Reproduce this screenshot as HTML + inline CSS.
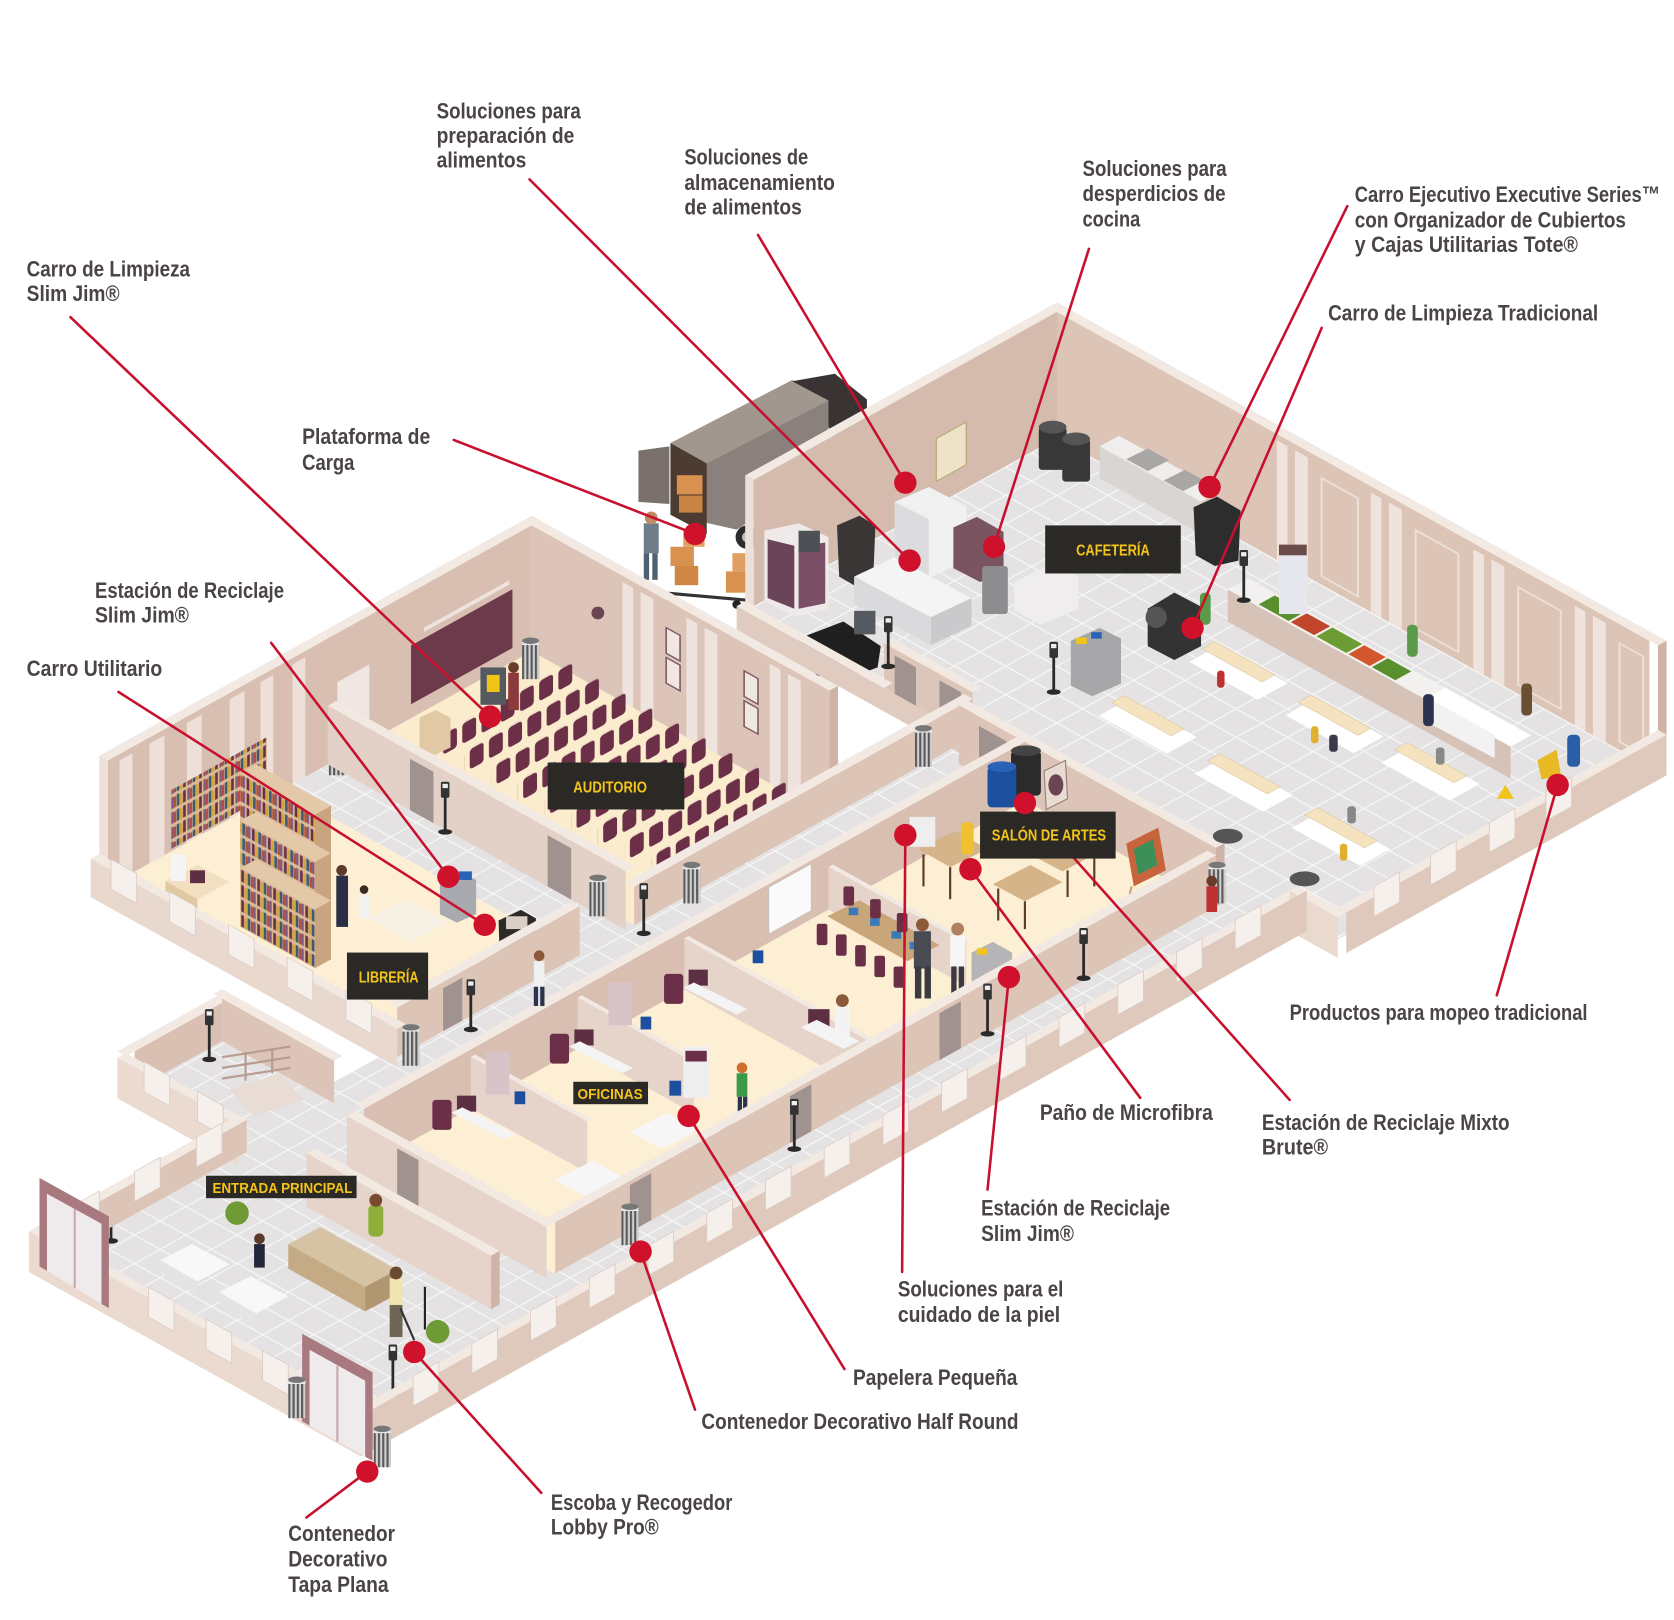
<!DOCTYPE html>
<html><head><meta charset="utf-8">
<style>
html,body{margin:0;padding:0;background:#fff;overflow:hidden;}
svg{display:block;}
.t{font-family:"Liberation Sans",Arial,sans-serif;font-weight:bold;font-size:21px;fill:#4a4446;}
.lb{font-family:"Liberation Sans",Arial,sans-serif;font-weight:bold;font-size:15px;fill:#f3c419;}
</style></head><body>
<svg width="1674" height="1620" viewBox="0 0 1568 1517" preserveAspectRatio="none" xmlns="http://www.w3.org/2000/svg">
<defs>
<pattern id="tile" width="24" height="24" patternUnits="userSpaceOnUse"><rect width="24" height="24" fill="#e4e2e2"/><path d="M0 0.6H24M0.6 0V24" stroke="#f6f6f6" stroke-width="1.2"/></pattern>
<pattern id="chairs" width="18" height="20" patternUnits="userSpaceOnUse"><rect x="2" y="1" width="13" height="19" rx="3" fill="#6b3047"/></pattern>
<pattern id="books" width="15" height="14" patternUnits="userSpaceOnUse"><rect width="15" height="14" fill="#d9b995"/><rect x="1" y="2" width="2.5" height="11" fill="#6b2f45"/><rect x="4" y="3" width="2.5" height="10" fill="#d1a53c"/><rect x="7" y="2" width="2.5" height="11" fill="#3c5a78"/><rect x="10" y="3" width="2.5" height="10" fill="#b0523a"/><rect x="12.5" y="2" width="2" height="11" fill="#7d5a8c"/></pattern>
<pattern id="canpat" width="4" height="5" patternUnits="userSpaceOnUse"><rect width="4" height="5" fill="#d0d0d0"/><rect width="2" height="5" fill="#5a5a5a"/></pattern>
<g id="post"><rect x="-1.3" y="0" width="2.6" height="44" fill="#2a2a2a"/><rect x="-4" y="-3" width="8" height="15" rx="1.5" fill="#333"/><rect x="-2.5" y="-1" width="5" height="4" fill="#eee"/><ellipse cx="0" cy="44" rx="6.5" ry="2.6" fill="#2a2a2a"/></g>
<g id="can"><rect x="-8" y="0" width="16" height="36" fill="url(#canpat)"/><rect x="-8" y="0" width="16" height="4" fill="#e8e8e8"/><ellipse cx="0" cy="0" rx="8" ry="3" fill="#777"/></g>
<rect id="cren" x="0" y="-40" width="24" height="28" fill="#f6f0ec" stroke="#dccbc2" stroke-width="0.8"/>
</defs>

<!-- TRUCK -->
<polygon points="628,415 742,356 776,375 776,442 690,496 628,482" fill="#8b817c"/>
<polygon points="628,415 742,356 776,375 662,434" fill="#a1978f"/>
<polygon points="628,415 662,434 662,500 628,482" fill="#4c3b30"/>
<rect x="634" y="445" width="24" height="18" fill="#d9914f"/>
<rect x="636" y="464" width="22" height="16" fill="#c98343"/>
<polygon points="598,422 627,418 627,472 598,470" fill="#7a706c"/>
<polygon points="742,357 782,350 812,374 812,406 790,420 776,400 776,375" fill="#3a3333"/>
<circle cx="700" cy="503" r="11" fill="#2b2b2b"/><circle cx="700" cy="503" r="5" fill="#bbb"/>
<rect x="628" y="512" width="22" height="18" fill="#d9914f"/>
<rect x="640" y="495" width="20" height="17" fill="#e0a064"/>
<rect x="632" y="530" width="22" height="18" fill="#d08645"/>
<rect x="680" y="535" width="22" height="20" fill="#d9914f"/>
<rect x="686" y="518" width="18" height="17" fill="#e0a064"/>
<line x1="620" y1="555" x2="700" y2="562" stroke="#333" stroke-width="3"/>
<circle cx="628" cy="560" r="4" fill="#222"/><circle cx="690" cy="566" r="4" fill="#222"/>
<rect x="603" y="490" width="14" height="28" fill="#6e7d8a"/><rect x="603" y="518" width="5" height="25" fill="#4f6070"/><rect x="611" y="518" width="5" height="25" fill="#4f6070"/><circle cx="610" cy="485" r="6" fill="#c08a66"/>

<!-- FLOORS -->
<g transform="matrix(1,0.555,-1,0.555,990,410)">
<rect x="0" y="0" width="213" height="292" fill="url(#tile)"/>
<rect x="213" y="0" width="342" height="300" fill="url(#tile)"/>
<rect x="213" y="284" width="313" height="37" fill="url(#tile)"/>
<rect x="205" y="284" width="86" height="616" fill="url(#tile)"/>
<rect x="223" y="900" width="68" height="82" fill="url(#tile)"/>
<rect x="470" y="321" width="56" height="619" fill="url(#tile)"/>
<rect x="223" y="940" width="303" height="238" fill="url(#tile)"/>
<rect x="-66" y="609" width="279" height="51" fill="url(#tile)"/>
<rect x="118" y="900" width="105" height="82" fill="url(#tile)"/>
<rect x="-66" y="426" width="279" height="183" fill="#fbecce"/>
<rect x="-66" y="660" width="279" height="171" fill="#fcefd3"/>
<rect x="291" y="321" width="179" height="619" fill="#fcefd3"/>
</g>

<!-- T2 back-right tall wall -->
<g transform="matrix(1,0.555,0,1,990,410)">
<rect x="-8" y="-118" width="563" height="118" fill="#dcc4b7"/>
<g fill="#efe4dd">
<rect x="206" y="-112" width="10" height="112"/><rect x="223" y="-112" width="12" height="112"/>
<rect x="294" y="-112" width="10" height="112"/><rect x="311" y="-112" width="12" height="112"/>
<rect x="390" y="-112" width="10" height="112"/><rect x="407" y="-112" width="12" height="112"/>
<rect x="485" y="-112" width="10" height="112"/><rect x="502" y="-112" width="12" height="112"/>
</g>
<g fill="none" stroke="#ecdfd7" stroke-width="2">
<rect x="248" y="-100" width="34" height="92"/><rect x="336" y="-100" width="40" height="92"/><rect x="432" y="-100" width="40" height="92"/><rect x="527" y="-100" width="22" height="92"/>
</g>
</g>
<g transform="matrix(1,0.555,-1,0.555,990,292)"><rect x="-8" y="-8" width="571" height="8" fill="#f3e9e3"/></g>
<g transform="matrix(-1,0.555,0,1,1553,722.465)"><rect x="-8" y="-118" width="8" height="88" fill="#ceb3a6"/></g>

<!-- T1 kitchen back-left tall wall -->
<g transform="matrix(-1,0.555,0,1,990,410)">
<rect x="0" y="-118" width="284" height="118" fill="#d5bbad"/>
<rect x="85" y="-62" width="28" height="40" fill="#ece3c8" stroke="#b8a46a" stroke-width="1"/>
</g>
<g transform="matrix(1,0.555,-1,0.555,990,292)"><rect x="-8" y="-8" width="8" height="292" fill="#f3e9e3"/></g>
<g transform="matrix(1,0.555,0,1,706,567.62)"><rect x="-8" y="-118" width="8" height="118" fill="#ece0d8"/></g>

<!-- T3 auditorium/library back-left tall wall -->
<g transform="matrix(-1,0.555,0,1,924,373.37)">
<rect x="426" y="-118" width="397" height="118" fill="#d8bfb2"/>
<rect x="444" y="-68" width="95" height="55" fill="#6d3a4b"/>
<rect x="447" y="-78" width="80" height="4" fill="#efe4dd"/>
<rect x="578" y="-72" width="30" height="72" fill="#f0e7e2"/>
<g fill="#ece0d8">
<rect x="638" y="-112" width="12" height="112"/><rect x="668" y="-112" width="12" height="112"/><rect x="695" y="-112" width="14" height="112"/><rect x="735" y="-112" width="14" height="112"/><rect x="770" y="-112" width="14" height="112"/><rect x="800" y="-112" width="12" height="112"/>
</g>
</g>
<g transform="matrix(1,0.555,-1,0.555,990,292)"><rect x="-74" y="418" width="8" height="405" fill="#f3e9e3"/></g>
<g transform="matrix(1,0.555,0,1,167,866.765)"><rect x="-74" y="-118" width="8" height="92" fill="#ece0d8"/></g>

<!-- T4 auditorium back-right tall wall -->
<g transform="matrix(1,0.555,0,1,564,646.43)">
<rect x="-66" y="-118" width="279" height="118" fill="#dcc5b8"/>
<g fill="#efe4dd">
<rect x="19" y="-112" width="10" height="112"/><rect x="36" y="-112" width="12" height="112"/>
<rect x="79" y="-112" width="10" height="112"/><rect x="96" y="-112" width="12" height="112"/>
<rect x="157" y="-112" width="10" height="112"/><rect x="174" y="-112" width="12" height="112"/>
</g>
<g fill="#f1e7e1" stroke="#7d5a63" stroke-width="1.5">
<rect x="60" y="-92" width="13" height="24"/><rect x="60" y="-64" width="13" height="24"/>
<rect x="133" y="-92" width="13" height="24"/><rect x="133" y="-64" width="13" height="24"/>
</g>
</g>
<circle cx="560" cy="574" r="6" fill="#6a4654"/>
<g transform="matrix(1,0.555,-1,0.555,990,292)"><rect x="-74" y="418" width="287" height="8" fill="#f3e9e3"/></g>
<g transform="matrix(-1,0.555,0,1,1203,528.215)"><rect x="418" y="-118" width="8" height="82" fill="#ceb3a6"/></g>

<!-- KITCHEN CONTENTS -->
<polygon points="1030,418 1125,470 1125,500 1030,448" fill="#d9d5d3"/>
<polygon points="1030,418 1048,408 1143,460 1125,470" fill="#f0eeed"/>
<polygon points="1055,430 1075,420 1095,431 1075,441" fill="#a9a6a6"/>
<polygon points="1090,450 1110,440 1128,450 1108,460" fill="#a9a6a6"/>
<rect x="973" y="400" width="26" height="40" rx="3" fill="#383838"/><ellipse cx="986" cy="400" rx="13" ry="6" fill="#555"/>
<rect x="995" y="411" width="26" height="40" rx="3" fill="#383838"/><ellipse cx="1008" cy="411" rx="13" ry="6" fill="#555"/>
<polygon points="1118,475 1140,465 1162,478 1160,525 1138,530 1120,520" fill="#2d2d2d"/>
<polygon points="716,497 748,490 776,503 776,570 745,577 716,563" fill="#efe9ea"/>
<polygon points="719,505 744,511 744,570 719,560" fill="#6a4458"/>
<polygon points="748,512 773,508 773,565 748,570" fill="#7b5066"/>
<rect x="748" y="497" width="20" height="20" fill="#4d5055"/>
<polygon points="784,492 805,483 820,492 818,540 800,548 786,540" fill="#3a3636"/>
<polygon points="838,470 870,456 905,474 905,525 873,540 838,522" fill="#f1f1f2"/>
<polygon points="838,470 870,486 870,540 838,522" fill="#dcdcde"/>
<polygon points="893,494 915,484 940,498 940,535 918,545 893,532" fill="#7b5461"/>
<rect x="920" y="530" width="24" height="45" rx="3" fill="#8d8d8f"/>
<polygon points="800,540 838,522 910,560 872,578" fill="#f4f4f4"/>
<polygon points="800,540 872,578 872,604 800,566" fill="#dadadc"/>
<polygon points="872,578 910,560 910,586 872,604" fill="#cacacc"/>
<polygon points="748,598 790,582 825,605 822,625 782,640 752,620" fill="#1f1f1f"/>
<circle cx="768" cy="628" r="5" fill="#444"/>
<rect x="800" y="572" width="20" height="22" fill="#555a60"/>
<polygon points="950,545 985,528 1010,540 1010,570 975,585 950,572" fill="#efeded"/>

<!-- CAFETERIA CONTENTS -->
<g transform="matrix(1,0.555,-1,0.555,990,400)" fill="#ffffff">
<rect x="260" y="108" width="64" height="28"/><rect x="263" y="196" width="64" height="28"/><rect x="350" y="108" width="64" height="28"/><rect x="357" y="200" width="64" height="28"/><rect x="435" y="103" width="64" height="28"/><rect x="448" y="200" width="64" height="28"/>
</g>
<g transform="matrix(1,0.555,-1,0.555,990,390)" fill="#f5e3bf" stroke="#dcc8a5" stroke-width="0.6">
<rect x="264" y="116" width="56" height="12"/><rect x="267" y="204" width="56" height="12"/><rect x="354" y="116" width="56" height="12"/><rect x="361" y="208" width="56" height="12"/><rect x="439" y="111" width="56" height="12"/><rect x="452" y="208" width="56" height="12"/>
</g>
<rect x="1140" y="628" width="7" height="16" rx="3" fill="#c03030"/>
<rect x="1228" y="680" width="7" height="16" rx="3" fill="#e0b030"/>
<rect x="1245" y="688" width="8" height="16" rx="3" fill="#3a3a4a"/>
<rect x="1255" y="790" width="7" height="16" rx="3" fill="#e0b030"/>
<rect x="1262" y="755" width="8" height="16" rx="3" fill="#888"/>
<rect x="1345" y="700" width="8" height="16" rx="3" fill="#888"/>
<g transform="matrix(1,0.555,0,1,915,451.625)"><rect x="235" y="-30" width="265" height="30" fill="#d6c2b7"/></g>
<g transform="matrix(1,0.555,-1,0.555,990,380)">
<rect x="235" y="56" width="265" height="19" fill="#f3f1ef"/>
<rect x="262" y="58" width="28" height="15" fill="#5a8f2e"/><rect x="292" y="58" width="22" height="15" fill="#c0452b"/><rect x="316" y="58" width="28" height="15" fill="#6e9c34"/><rect x="346" y="58" width="20" height="15" fill="#d2572c"/><rect x="368" y="58" width="22" height="15" fill="#5a8f2e"/>
<rect x="420" y="56" width="80" height="19" fill="#ffffff"/>
</g>
<rect x="1198" y="515" width="26" height="60" fill="#e6e7ee"/><rect x="1198" y="510" width="26" height="10" fill="#6b4a4a"/>
<polygon points="1340,655 1400,688 1400,710 1340,678" fill="#f2f2f2"/>
<polygon points="1003,600 1030,588 1050,598 1050,640 1023,652 1003,642" fill="#a7a7aa"/>
<rect x="1008" y="597" width="10" height="6" fill="#f0c419"/><rect x="1022" y="592" width="10" height="6" fill="#2a62b8"/>
<polygon points="1075,570 1100,555 1125,568 1125,605 1100,618 1075,605" fill="#333"/>
<circle cx="1083" cy="578" r="10" fill="#555"/>
<rect x="1124" y="555" width="10" height="30" rx="4" fill="#5a9a48"/>
<rect x="1318" y="585" width="10" height="30" rx="4" fill="#5a9a48"/>
<rect x="1425" y="640" width="10" height="30" rx="4" fill="#6a5030"/>
<rect x="1333" y="650" width="10" height="30" rx="4" fill="#2b3350"/>
<rect x="1468" y="688" width="12" height="30" rx="4" fill="#2a5fa8"/>
<polygon points="1440,712 1458,702 1462,725 1444,730" fill="#e8b923"/>
<polygon points="1410,735 1418,748 1402,748" fill="#f0c419"/>

<!-- AUDITORIUM CONTENTS -->
<g fill="url(#chairs)">
<rect transform="matrix(-1,0.555,0,1,970,398.9)" x="430" y="-20" width="130" height="20"/>
<rect transform="matrix(-1,0.555,0,1,995,412.775)" x="430" y="-20" width="130" height="20"/>
<rect transform="matrix(-1,0.555,0,1,1020,426.65)" x="430" y="-20" width="130" height="20"/>
<rect transform="matrix(-1,0.555,0,1,1045,440.525)" x="430" y="-20" width="130" height="20"/>
<rect transform="matrix(-1,0.555,0,1,1070,454.4)" x="430" y="-20" width="130" height="20"/>
<rect transform="matrix(-1,0.555,0,1,1095,468.275)" x="430" y="-20" width="130" height="20"/>
<rect transform="matrix(-1,0.555,0,1,1120,482.15)" x="430" y="-20" width="130" height="20"/>
<rect transform="matrix(-1,0.555,0,1,1145,496.025)" x="430" y="-20" width="130" height="20"/>
<rect transform="matrix(-1,0.555,0,1,1170,509.9)" x="430" y="-20" width="130" height="20"/>
</g>
<polygon points="393,672 408,665 422,672 422,700 407,707 393,700" fill="#e2c9a6"/>
<rect x="450" y="625" width="24" height="35" fill="#555a60"/><rect x="456" y="632" width="12" height="16" fill="#f0c419"/>
<rect x="476" y="630" width="10" height="35" fill="#8b3b3b"/><circle cx="481" cy="625" r="5" fill="#6a3a2a"/>
<use href="#can" x="497" y="600"/>
<use href="#can" x="316" y="690"/>

<!-- LIBRARY CONTENTS -->
<g transform="matrix(-1,0.555,0,1,940,382.25)"><rect x="690" y="-75" width="90" height="55" fill="url(#books)"/></g>
<g transform="matrix(1,0.555,0,1,275,806.825)"><rect x="-50" y="-55" width="70" height="55" fill="url(#books)"/></g>
<g transform="matrix(1,0.555,-1,0.555,990,355)"><rect x="-50" y="700" width="70" height="15" fill="#e3c9a8"/></g>
<g transform="matrix(-1,0.555,0,1,1010,421.1)"><rect x="700" y="-55" width="15" height="55" fill="#c9a47e"/></g>
<g transform="matrix(1,0.555,0,1,235,829.025)"><rect x="-10" y="-55" width="70" height="55" fill="url(#books)"/></g>
<g transform="matrix(1,0.555,-1,0.555,990,355)"><rect x="-10" y="740" width="70" height="15" fill="#e3c9a8"/></g>
<g transform="matrix(-1,0.555,0,1,1050,443.3)"><rect x="740" y="-55" width="15" height="55" fill="#c9a47e"/></g>
<g transform="matrix(1,0.555,0,1,195,851.225)"><rect x="30" y="-55" width="70" height="55" fill="url(#books)"/></g>
<g transform="matrix(1,0.555,-1,0.555,990,355)"><rect x="30" y="780" width="70" height="15" fill="#e3c9a8"/></g>
<g transform="matrix(-1,0.555,0,1,1090,465.5)"><rect x="780" y="-55" width="15" height="55" fill="#c9a47e"/></g>
<polygon points="155,825 185,810 215,826 185,842" fill="#f1dfc0"/>
<polygon points="155,825 185,842 185,858 155,841" fill="#e0c8a2"/>
<rect x="160" y="800" width="14" height="25" fill="#f5f5f5"/>
<rect x="178" y="815" width="14" height="12" fill="#5d2f42"/>
<polygon points="345,860 380,842 420,864 385,882" fill="#f6efe4"/>
<rect x="315" y="820" width="11" height="48" fill="#2b2f45"/><circle cx="320" cy="815" r="5" fill="#5a3a2a"/>
<rect x="337" y="838" width="9" height="22" fill="#f2f2f2"/><circle cx="341" cy="833" r="4" fill="#3a2a20"/>
<polygon points="412,825 430,816 446,824 446,856 428,864 412,856" fill="#a9aab0"/>
<rect x="430" y="816" width="12" height="8" fill="#2a62b8"/>
<polygon points="467,862 488,852 502,860 500,895 480,900 468,892" fill="#2e2a28"/>
<rect x="474" y="858" width="20" height="12" fill="#d8cfc6"/>

<!-- K1 kitchen front wall -->
<g transform="matrix(1,0.555,0,1,698,572.06)"><rect x="-8" y="0" width="221" height="22" fill="#e0cbc0"/><rect x="130" y="-42" width="83" height="42" fill="#dcc6ba"/><rect x="140" y="-36" width="20" height="36" fill="#a0928e"/><rect x="182" y="-36" width="20" height="36" fill="#a0928e"/></g>
<g transform="matrix(1,0.555,-1,0.555,990,410)"><rect x="-8" y="284" width="138" height="8" fill="#f3e9e3"/></g>
<g transform="matrix(1,0.555,-1,0.555,990,368)"><rect x="130" y="284" width="83" height="8" fill="#f3e9e3"/></g>

<!-- A2/A3 corridor left low wall -->
<g transform="matrix(-1,0.555,0,1,1203,528.215)"><rect x="292" y="-36" width="317" height="36" fill="#dcc4b7"/></g>
<g transform="matrix(1,0.555,-1,0.555,990,374)"><rect x="205" y="292" width="8" height="317" fill="#f3e9e3"/></g>

<!-- A1 auditorium front wall -->
<g transform="matrix(1,0.555,-1,0.555,990,355)"><rect x="-66" y="609" width="279" height="8" fill="#f3e9e3"/></g>
<g transform="matrix(1,0.555,0,1,373,752.435)"><rect x="-66" y="-55" width="279" height="55" fill="#e3d0c6"/><rect x="11" y="-48" width="22" height="48" fill="#a0928e"/><rect x="140" y="-48" width="22" height="48" fill="#a0928e"/></g>

<!-- M2 art room back-right -->
<g transform="matrix(1,0.555,0,1,669,588.155)"><rect x="229" y="-55" width="241" height="55" fill="#dcc5b8"/><rect x="248" y="-46" width="26" height="46" fill="#a0928e"/></g>
<g transform="matrix(1,0.555,-1,0.555,990,355)"><rect x="229" y="313" width="241" height="8" fill="#f3e9e3"/></g>
<g transform="matrix(-1,0.555,0,1,1460,670.85)"><rect x="313" y="-55" width="8" height="55" fill="#ceb3a6"/></g>

<!-- M1 art/office back-left -->
<g transform="matrix(-1,0.555,0,1,1281,571.505)"><rect x="321" y="-55" width="619" height="55" fill="#d8bfb2"/><rect x="521" y="-52" width="40" height="44" fill="#fafafa" stroke="#c9c0bb"/></g>
<g transform="matrix(1,0.555,-1,0.555,990,355)"><rect x="283" y="313" width="8" height="627" fill="#f3e9e3"/></g>

<!-- ART ROOM CONTENTS -->
<rect x="947" y="703" width="28" height="42" rx="4" fill="#2b2b2b"/><ellipse cx="961" cy="703" rx="14" ry="5" fill="#444"/>
<rect x="925" y="718" width="27" height="38" rx="4" fill="#1d4f9f"/><ellipse cx="938.5" cy="718" rx="13.5" ry="5" fill="#2a62b8"/>
<polygon points="978,722 998,712 1000,748 980,758" fill="#e8dcd2" stroke="#9a7a70"/>
<ellipse cx="989" cy="735" rx="7" ry="10" fill="#6a4654"/>
<polygon points="860,795 895,778 925,795 890,812" fill="#d6b48a"/>
<polygon points="930,828 965,810 995,826 960,844" fill="#d6b48a"/>
<polygon points="965,800 1000,782 1030,798 995,816" fill="#d6b48a"/>
<g stroke="#5a3a2a" stroke-width="2"><line x1="865" y1="800" x2="865" y2="830"/><line x1="890" y1="812" x2="890" y2="842"/><line x1="935" y1="832" x2="935" y2="862"/><line x1="960" y1="844" x2="960" y2="870"/><line x1="1000" y1="815" x2="1000" y2="840"/><line x1="1025" y1="800" x2="1025" y2="830"/></g>
<polygon points="1055,790 1085,775 1092,815 1062,830" fill="#c8643c"/>
<polygon points="1062,795 1080,786 1084,810 1066,819" fill="#3d8f5a"/>
<line x1="1060" y1="830" x2="1055" y2="850" stroke="#c9a77d" stroke-width="2"/>
<rect x="900" y="770" width="12" height="30" rx="4" fill="#f0c030"/>
<rect x="852" y="765" width="24" height="28" fill="#eeeeee"/>

<!-- M5 art/meeting partition -->
<g transform="matrix(1,0.555,0,1,485,690.275)"><rect x="291" y="-40" width="129" height="40" fill="#e6d4ca"/></g>
<g transform="matrix(1,0.555,-1,0.555,990,370)"><rect x="291" y="501" width="129" height="4" fill="#f3e9e3"/></g>

<!-- MEETING ROOM -->
<polygon points="775,858 805,843 880,885 850,900" fill="#c9a57a"/>
<g fill="#3a7ab8"><rect x="795" y="850" width="9" height="7"/><rect x="815" y="860" width="9" height="7"/><rect x="835" y="872" width="9" height="7"/><rect x="852" y="882" width="9" height="7"/></g>
<g fill="#6b3047"><rect x="765" y="865" width="10" height="20" rx="2"/><rect x="783" y="875" width="10" height="20" rx="2"/><rect x="801" y="885" width="10" height="20" rx="2"/><rect x="819" y="895" width="10" height="20" rx="2"/><rect x="837" y="905" width="10" height="20" rx="2"/><rect x="790" y="830" width="10" height="18" rx="2"/><rect x="815" y="842" width="10" height="18" rx="2"/><rect x="840" y="855" width="10" height="18" rx="2"/></g>
<rect x="856" y="872" width="16" height="35" fill="#4a4a52"/><rect x="857" y="905" width="6" height="30" fill="#3a3a40"/><rect x="866" y="905" width="6" height="30" fill="#3a3a40"/><circle cx="864" cy="866" r="6" fill="#8a5a3a"/>
<rect x="890" y="876" width="14" height="30" fill="#f6f6f6"/><rect x="891" y="905" width="5" height="28" fill="#3a3a40"/><rect x="898" y="905" width="5" height="28" fill="#3a3a40"/><circle cx="897" cy="870" r="6" fill="#b08060"/>
<polygon points="910,892 930,882 948,892 948,925 928,935 910,925" fill="#b5b5b8"/>
<rect x="915" y="888" width="10" height="6" fill="#f0c419"/>

<!-- M6 meeting/offices partition + office partitions -->
<g transform="matrix(1,0.555,0,1,350,765.2)"><rect x="291" y="-48" width="171" height="48" fill="#e6d4ca"/></g>
<g transform="matrix(1,0.555,-1,0.555,990,362)"><rect x="291" y="636" width="171" height="4" fill="#f3e9e3"/></g>
<rect x="757" y="945" width="20" height="18" fill="#5d2f42"/><rect x="782" y="942" width="14" height="30" fill="#f3f3f3"/><circle cx="789" cy="937" r="6" fill="#8a5a3a"/>
<polygon points="750,962 790,982 805,975 765,955" fill="#f4f4f4"/>
<rect x="622" y="912" width="18" height="28" rx="3" fill="#6b3047"/><rect x="645" y="908" width="18" height="15" fill="#5d2f42"/>
<polygon points="640,925 690,950 700,945 650,920" fill="#f4f4f4"/>
<rect x="705" y="890" width="10" height="12" fill="#1d4f9f"/>
<g transform="matrix(1,0.555,0,1,250,820.7)"><rect x="291" y="-48" width="109" height="48" fill="#e6d4ca"/></g>
<g transform="matrix(1,0.555,-1,0.555,990,362)"><rect x="291" y="736" width="109" height="4" fill="#f3e9e3"/></g>
<rect x="515" y="968" width="18" height="28" rx="3" fill="#6b3047"/><rect x="538" y="964" width="18" height="15" fill="#5d2f42"/>
<polygon points="533,980 583,1005 593,1000 543,975" fill="#f4f4f4"/>
<rect x="600" y="952" width="10" height="12" fill="#1d4f9f"/>
<rect x="570" y="920" width="22" height="40" fill="#d8c4c8"/>
<g transform="matrix(1,0.555,0,1,150,876.2)"><rect x="291" y="-48" width="109" height="48" fill="#e6d4ca"/></g>
<g transform="matrix(1,0.555,-1,0.555,990,362)"><rect x="291" y="836" width="109" height="4" fill="#f3e9e3"/></g>
<rect x="405" y="1030" width="18" height="28" rx="3" fill="#6b3047"/><rect x="428" y="1026" width="18" height="15" fill="#5d2f42"/>
<polygon points="423,1042 473,1067 483,1062 433,1037" fill="#f4f4f4"/>
<rect x="482" y="1022" width="10" height="12" fill="#1d4f9f"/>
<rect x="455" y="985" width="22" height="40" fill="#d8c4c8"/>
<rect x="640" y="980" width="24" height="48" fill="#eeeeee"/><rect x="642" y="984" width="20" height="10" fill="#6b3047"/>
<rect x="627" y="1012" width="11" height="14" fill="#1d4f9f"/>
<rect x="690" y="1005" width="10" height="22" fill="#3a9a48"/><rect x="691" y="1027" width="4" height="18" fill="#2b3350"/><rect x="696" y="1027" width="4" height="18" fill="#2b3350"/><circle cx="695" cy="1000" r="5" fill="#d07030"/>
<polygon points="590,1060 625,1042 655,1058 620,1076" fill="#f6f6f6"/>
<polygon points="520,1105 555,1087 585,1103 550,1121" fill="#f6f6f6"/>
<ellipse cx="682" cy="1058" rx="8" ry="5" fill="#777"/>

<!-- M3 office/art front-right wall -->
<g transform="matrix(-1,0.555,0,1,1460,670.85)"><rect x="321" y="-48" width="619" height="48" fill="#dcc4b7"/><rect x="560" y="-44" width="20" height="44" fill="#a0928e"/><rect x="700" y="-44" width="20" height="44" fill="#a0928e"/><rect x="850" y="-44" width="20" height="44" fill="#a0928e"/></g>
<g transform="matrix(1,0.555,-1,0.555,990,362)"><rect x="462" y="321" width="8" height="619" fill="#f3e9e3"/></g>
<!-- M4 office front-left wall -->
<g transform="matrix(1,0.555,0,1,42,936.14)"><rect x="283" y="-48" width="187" height="48" fill="#e6d4ca"/><rect x="330" y="-44" width="20" height="44" fill="#a0928e"/></g>
<g transform="matrix(1,0.555,-1,0.555,990,362)"><rect x="283" y="940" width="187" height="8" fill="#f3e9e3"/></g>

<!-- L3 library front-right, L2 library front-left -->
<g transform="matrix(-1,0.555,0,1,1203,528.215)"><rect x="660" y="-46" width="171" height="46" fill="#dcc4b7"/><rect x="770" y="-40" width="18" height="40" fill="#a0928e"/></g>
<g transform="matrix(1,0.555,-1,0.555,990,364)"><rect x="205" y="660" width="8" height="171" fill="#f3e9e3"/></g>
<g transform="matrix(1,0.555,-1,0.555,990,384)"><rect x="-74" y="823" width="287" height="8" fill="#f3e9e3"/></g>
<g transform="matrix(1,0.555,0,1,159,871.205)"><rect x="-74" y="-26" width="287" height="36" fill="#e9d8ce"/>
<use href="#cren" x="-55" y="4"/><use href="#cren" x="0" y="4"/><use href="#cren" x="55" y="4"/><use href="#cren" x="110" y="4"/><use href="#cren" x="165" y="4"/></g>

<!-- STAIR ROOM -->
<g transform="matrix(-1,0.555,0,1,1108,475.49)"><rect x="900" y="-36" width="82" height="36" fill="#d9c0b3"/></g>
<g transform="matrix(1,0.555,-1,0.555,990,374)"><rect x="110" y="892" width="8" height="98" fill="#f3e9e3"/></g>
<g transform="matrix(1,0.555,0,1,90,909.5)"><rect x="118" y="-40" width="105" height="40" fill="#dcc5b8"/></g>
<g transform="matrix(1,0.555,-1,0.555,990,370)"><rect x="110" y="892" width="113" height="8" fill="#f3e9e3"/></g>
<polygon points="215,1020 262,1005 285,1030 238,1045" fill="#e8dcd5"/>
<g stroke="#b79b90" stroke-width="2"><line x1="208" y1="990" x2="272" y2="980"/><line x1="208" y1="1000" x2="272" y2="990"/><line x1="208" y1="1010" x2="272" y2="1000"/><line x1="230" y1="985" x2="230" y2="1012"/><line x1="255" y1="982" x2="255" y2="1005"/></g>
<g transform="matrix(1,0.555,-1,0.555,990,380)"><rect x="110" y="982" width="113" height="8" fill="#f3e9e3"/></g>
<g transform="matrix(1,0.555,0,1,0,959.45)"><rect x="110" y="-30" width="113" height="38" fill="#eadacf"/><use href="#cren" x="135" y="0"/><use href="#cren" x="185" y="0"/></g>

<!-- LOBBY interior wall -->
<g transform="matrix(1,0.555,-1,0.555,990,360)"><rect x="297" y="992" width="173" height="8" fill="#f3e9e3"/></g>
<g transform="matrix(1,0.555,0,1,-10,965)"><rect x="297" y="-50" width="173" height="50" fill="#e6d4ca"/></g>
<g transform="matrix(-1,0.555,0,1,1460,670.85)"><rect x="992" y="-50" width="8" height="50" fill="#ceb3a6"/></g>
<polygon points="150,1180 180,1165 215,1184 185,1200" fill="#f8f8f8"/>
<polygon points="150,1180 185,1200 185,1212 150,1192" fill="#e4e4e4"/>
<polygon points="205,1210 235,1195 270,1214 240,1230" fill="#f8f8f8"/>
<polygon points="205,1210 240,1230 240,1242 205,1222" fill="#e4e4e4"/>
<polygon points="270,1165 300,1149 372,1189 342,1205" fill="#d6c3a3"/>
<polygon points="270,1165 342,1205 342,1228 270,1188" fill="#c4ab86"/>
<polygon points="342,1205 372,1189 372,1212 342,1228" fill="#b09772"/>
<circle cx="222" cy="1136" r="11" fill="#6f9a35"/><circle cx="410" cy="1247" r="11" fill="#6f9a35"/>
<rect x="345" y="1128" width="14" height="30" rx="5" fill="#8fae3a"/><circle cx="352" cy="1124" r="6" fill="#7a4a30"/>
<rect x="238" y="1165" width="10" height="22" fill="#23263a"/><circle cx="243" cy="1160" r="5" fill="#5a3a2a"/>
<rect x="365" y="1197" width="12" height="26" fill="#efe3b0"/><rect x="365" y="1222" width="12" height="30" fill="#6d6555"/><circle cx="371" cy="1192" r="6" fill="#6a4a30"/>
<line x1="375" y1="1225" x2="388" y2="1255" stroke="#333" stroke-width="2"/>
<line x1="398" y1="1205" x2="398" y2="1245" stroke="#222" stroke-width="2"/>

<!-- CORRIDOR OBJECTS -->
<use href="#can" x="560" y="822"/>
<use href="#can" x="648" y="810"/>
<use href="#can" x="865" y="682"/>
<use href="#can" x="385" y="962"/>
<use href="#can" x="590" y="1130"/>
<use href="#can" x="1140" y="810"/>
<use href="#post" x="417" y="735"/>
<use href="#post" x="603" y="830"/>
<use href="#post" x="441" y="920"/>
<use href="#post" x="196" y="948"/>
<use href="#post" x="104" y="1118"/>
<use href="#post" x="368" y="1262"/>
<use href="#post" x="744" y="1032"/>
<use href="#post" x="925" y="924"/>
<use href="#post" x="1015" y="872"/>
<use href="#post" x="987" y="604"/>
<use href="#post" x="1165" y="518"/>
<use href="#post" x="832" y="580"/>
<rect x="500" y="900" width="10" height="24" fill="#f0f0f0"/><rect x="500" y="924" width="4" height="18" fill="#2b3350"/><rect x="506" y="924" width="4" height="18" fill="#2b3350"/><circle cx="505" cy="895" r="5" fill="#8a5a3a"/>
<rect x="1130" y="830" width="10" height="24" fill="#c03030"/><circle cx="1135" cy="825" r="5" fill="#6a3a2a"/>
<ellipse cx="1150" cy="783" rx="14" ry="7" fill="#555"/>
<ellipse cx="1222" cy="823" rx="14" ry="7" fill="#555"/>

<!-- EXTERIOR LOW WALLS -->
<g transform="matrix(1,0.555,-1,0.555,990,380)">
<rect x="555" y="-8" width="8" height="300" fill="#f3e9e3"/>
<rect x="518" y="292" width="45" height="8" fill="#f3e9e3"/>
<rect x="518" y="292" width="8" height="886" fill="#f3e9e3"/>
<rect x="215" y="1170" width="311" height="8" fill="#f3e9e3"/>
<rect x="215" y="982" width="8" height="188" fill="#f3e9e3"/>
</g>
<g transform="matrix(-1,0.555,0,1,1213,533.765)"><rect x="982" y="-30" width="188" height="30" fill="#dcc4b7"/>
<use href="#cren" x="1005" y="0"/><use href="#cren" x="1063" y="0"/><use href="#cren" x="1120" y="0"/></g>
<g transform="matrix(-1,0.555,0,1,1553,722.465)"><rect x="-8" y="-30" width="300" height="38" fill="#dfc9bd"/>
<use href="#cren" x="81" y="0"/><use href="#cren" x="134" y="0"/><use href="#cren" x="189" y="0"/><use href="#cren" x="242" y="0"/></g>
<g transform="matrix(1,0.555,0,1,690,576.5)"><rect x="518" y="-30" width="45" height="38" fill="#ead9cf"/></g>
<g transform="matrix(-1,0.555,0,1,1516,701.93)"><rect x="292" y="-30" width="886" height="38" fill="#dfc9bd"/>
<use href="#cren" x="335" y="0"/><use href="#cren" x="390" y="0"/><use href="#cren" x="445" y="0"/><use href="#cren" x="500" y="0"/><use href="#cren" x="555" y="0"/><use href="#cren" x="610" y="0"/><use href="#cren" x="665" y="0"/><use href="#cren" x="720" y="0"/><use href="#cren" x="775" y="0"/><use href="#cren" x="830" y="0"/><use href="#cren" x="885" y="0"/><use href="#cren" x="940" y="0"/><use href="#cren" x="995" y="0"/><use href="#cren" x="1050" y="0"/><use href="#cren" x="1105" y="0"/></g>
<g transform="matrix(1,0.555,0,1,-188,1063.79)"><rect x="215" y="-30" width="311" height="38" fill="#eadacf"/>
<use href="#cren" x="327" y="0"/><use href="#cren" x="381" y="0"/><use href="#cren" x="434" y="0"/></g>

<!-- DOORS -->
<polygon points="37,1103 102,1139 102,1225 95,1221 95,1146 44,1118 44,1190 37,1186" fill="#a8797f"/>
<polygon points="44,1118 95,1146 95,1221 44,1190" fill="#efebec"/>
<line x1="70" y1="1132" x2="70" y2="1206" stroke="#c9a9ad" stroke-width="2"/>
<polygon points="283,1249 349,1285 349,1368 342,1364 342,1293 290,1264 290,1335 283,1331" fill="#a8797f"/>
<polygon points="290,1264 342,1293 342,1364 290,1335" fill="#efebec"/>
<line x1="316" y1="1279" x2="316" y2="1350" stroke="#c9a9ad" stroke-width="2"/>
<use href="#can" x="278" y="1292"/>
<use href="#can" x="358" y="1338"/>

<!-- RED LINES -->
<g stroke="#c8102e" stroke-width="2.4" fill="none" stroke-linecap="round">
<line x1="496" y1="168" x2="852" y2="525"/>
<line x1="710" y1="220" x2="848" y2="452"/>
<line x1="1020" y1="233" x2="931" y2="512"/>
<line x1="1262" y1="193" x2="1133" y2="456"/>
<line x1="1238" y1="307" x2="1117" y2="588"/>
<line x1="66" y1="297" x2="459" y2="671"/>
<line x1="425" y1="412" x2="651" y2="500"/>
<line x1="254" y1="602" x2="420" y2="821"/>
<line x1="111" y1="648" x2="454" y2="866"/>
<line x1="1402" y1="932" x2="1459" y2="735"/>
<line x1="1068" y1="1028" x2="909" y2="814"/>
<line x1="1208" y1="1030" x2="960" y2="752"/>
<line x1="925" y1="1114" x2="945" y2="915"/>
<line x1="845" y1="1191" x2="848" y2="782"/>
<line x1="791" y1="1282" x2="645" y2="1045"/>
<line x1="651" y1="1320" x2="600" y2="1172"/>
<line x1="507" y1="1398" x2="388" y2="1266"/>
<line x1="287" y1="1421" x2="344" y2="1378"/>
</g>

<!-- ROOM LABELS -->
<g fill="#2b2926">
<rect x="979" y="492" width="127" height="45"/>
<rect x="513" y="714" width="128" height="44"/>
<rect x="918" y="760" width="127" height="44"/>
<rect x="325" y="892" width="76" height="44"/>
<rect x="537" y="1013" width="70" height="21"/>
<rect x="193" y="1101" width="141" height="21"/>
</g>
<text class="lb" x="1008" y="520" textLength="69" lengthAdjust="spacingAndGlyphs">CAFETERÍA</text>
<text class="lb" x="537" y="742" textLength="69" lengthAdjust="spacingAndGlyphs">AUDITORIO</text>
<text class="lb" x="929" y="787" textLength="107" lengthAdjust="spacingAndGlyphs">SALÓN DE ARTES</text>
<text class="lb" x="336" y="920" textLength="56" lengthAdjust="spacingAndGlyphs">LIBRERÍA</text>
<text class="lb" x="541" y="1029" textLength="61" lengthAdjust="spacingAndGlyphs" style="font-size:14px">OFICINAS</text>
<text class="lb" x="199" y="1117" textLength="131" lengthAdjust="spacingAndGlyphs" style="font-size:14px">ENTRADA PRINCIPAL</text>

<!-- DOTS -->
<g fill="#d0112b">
<circle cx="852" cy="525" r="10.5"/><circle cx="848" cy="452" r="10.5"/><circle cx="931" cy="512" r="10.5"/><circle cx="1133" cy="456" r="10.5"/><circle cx="1117" cy="588" r="10.5"/><circle cx="459" cy="671" r="10.5"/><circle cx="651" cy="500" r="10.5"/><circle cx="420" cy="821" r="10.5"/><circle cx="454" cy="866" r="10.5"/><circle cx="1459" cy="735" r="10.5"/><circle cx="909" cy="814" r="10.5"/><circle cx="960" cy="752" r="10.5"/><circle cx="945" cy="915" r="10.5"/><circle cx="848" cy="782" r="10.5"/><circle cx="645" cy="1045" r="10.5"/><circle cx="600" cy="1172" r="10.5"/><circle cx="388" cy="1266" r="10.5"/><circle cx="344" cy="1378" r="10.5"/>
</g>

<!-- CALLOUT TEXT -->
<g class="t">
<text class="t" x="409" y="111" textLength="135" lengthAdjust="spacingAndGlyphs">Soluciones para</text>
<text class="t" x="409" y="134" textLength="129" lengthAdjust="spacingAndGlyphs">preparación de</text>
<text class="t" x="409" y="157" textLength="84" lengthAdjust="spacingAndGlyphs">alimentos</text>

<text class="t" x="641" y="154" textLength="116" lengthAdjust="spacingAndGlyphs">Soluciones de</text>
<text class="t" x="641" y="178" textLength="141" lengthAdjust="spacingAndGlyphs">almacenamiento</text>
<text class="t" x="641" y="201" textLength="110" lengthAdjust="spacingAndGlyphs">de alimentos</text>

<text class="t" x="1014" y="165" textLength="135" lengthAdjust="spacingAndGlyphs">Soluciones para</text>
<text class="t" x="1014" y="188" textLength="134" lengthAdjust="spacingAndGlyphs">desperdicios de</text>
<text class="t" x="1014" y="212" textLength="54" lengthAdjust="spacingAndGlyphs">cocina</text>

<text class="t" x="1269" y="189" textLength="286" lengthAdjust="spacingAndGlyphs">Carro Ejecutivo Executive Series™</text>
<text class="t" x="1269" y="213" textLength="254" lengthAdjust="spacingAndGlyphs">con Organizador de Cubiertos</text>
<text class="t" x="1269" y="236" textLength="209" lengthAdjust="spacingAndGlyphs">y Cajas Utilitarias Tote®</text>

<text class="t" x="1244" y="300" textLength="253" lengthAdjust="spacingAndGlyphs">Carro de Limpieza Tradicional</text>

<text class="t" x="25" y="259" textLength="153" lengthAdjust="spacingAndGlyphs">Carro de Limpieza</text>
<text class="t" x="25" y="282" textLength="87" lengthAdjust="spacingAndGlyphs">Slim Jim®</text>

<text class="t" x="283" y="416" textLength="120" lengthAdjust="spacingAndGlyphs">Plataforma de</text>
<text class="t" x="283" y="440" textLength="49" lengthAdjust="spacingAndGlyphs">Carga</text>

<text class="t" x="89" y="560" textLength="177" lengthAdjust="spacingAndGlyphs">Estación de Reciclaje</text>
<text class="t" x="89" y="583" textLength="88" lengthAdjust="spacingAndGlyphs">Slim Jim®</text>

<text class="t" x="25" y="633" textLength="127" lengthAdjust="spacingAndGlyphs">Carro Utilitario</text>

<text class="t" x="1208" y="955" textLength="279" lengthAdjust="spacingAndGlyphs">Productos para mopeo tradicional</text>

<text class="t" x="974" y="1049" textLength="162" lengthAdjust="spacingAndGlyphs">Paño de Microfibra</text>

<text class="t" x="1182" y="1058" textLength="232" lengthAdjust="spacingAndGlyphs">Estación de Reciclaje Mixto</text>
<text class="t" x="1182" y="1081" textLength="62" lengthAdjust="spacingAndGlyphs">Brute®</text>

<text class="t" x="919" y="1138" textLength="177" lengthAdjust="spacingAndGlyphs">Estación de Reciclaje</text>
<text class="t" x="919" y="1162" textLength="87" lengthAdjust="spacingAndGlyphs">Slim Jim®</text>

<text class="t" x="841" y="1214" textLength="155" lengthAdjust="spacingAndGlyphs">Soluciones para el</text>
<text class="t" x="841" y="1238" textLength="152" lengthAdjust="spacingAndGlyphs">cuidado de la piel</text>

<text class="t" x="799" y="1297" textLength="154" lengthAdjust="spacingAndGlyphs">Papelera Pequeña</text>

<text class="t" x="657" y="1338" textLength="297" lengthAdjust="spacingAndGlyphs">Contenedor Decorativo Half Round</text>

<text class="t" x="516" y="1414" textLength="170" lengthAdjust="spacingAndGlyphs">Escoba y Recogedor</text>
<text class="t" x="516" y="1437" textLength="101" lengthAdjust="spacingAndGlyphs">Lobby Pro®</text>

<text class="t" x="270" y="1443" textLength="100" lengthAdjust="spacingAndGlyphs">Contenedor</text>
<text class="t" x="270" y="1467" textLength="93" lengthAdjust="spacingAndGlyphs">Decorativo</text>
<text class="t" x="270" y="1491" textLength="94" lengthAdjust="spacingAndGlyphs">Tapa Plana</text>
</g>
</svg>
</body></html>
